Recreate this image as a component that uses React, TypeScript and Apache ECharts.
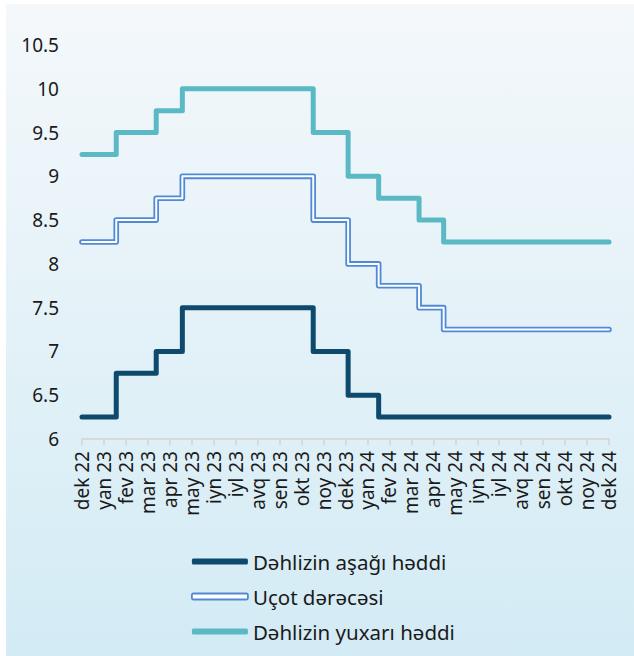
import React, { useEffect, useRef } from "react";
import * as echarts from "echarts";

const monthLabels = [
  "dek 22", "yan 23", "fev 23", "mar 23", "apr 23", "may 23", "iyn 23", "iyl 23",
  "avq 23", "sen 23", "okt 23", "noy 23", "dek 23", "yan 24", "fev 24", "mar 24",
  "apr 24", "may 24", "iyn 24", "iyl 24", "avq 24", "sen 24", "okt 24", "noy 24", "dek 24",
];

// decision dates expressed in months since dek 22
const changeDates = [0, 1.56, 3.38, 4.57, 10.53, 12.12, 13.51, 15.35, 16.47, 24];
const corridorLow = [6.25, 6.75, 7, 7.5, 7, 6.5, 6.25, 6.25, 6.25, 6.25];
const policyRate = [8.25, 8.5, 8.75, 9, 8.5, 8, 7.75, 7.5, 7.25, 7.25];
const corridorHigh = [9.25, 9.5, 9.75, 10, 9.5, 9, 8.75, 8.5, 8.25, 8.25];

const seriesNames = ["Dəhlizin aşağı həddi", "Uçot dərəcəsi", "Dəhlizin yuxarı həddi"];

const FONT = "Noto Sans";

function pair(values: number[]) {
  return changeDates.map((d, i) => [d, values[i]]);
}

export default function App() {
  const ref = useRef<HTMLDivElement>(null);
  useEffect(() => {
    document.body.style.margin = "0";
    if (!ref.current) return;
    const chart = echarts.init(ref.current, undefined, { renderer: "svg" });
    const lineBase = { type: "line", step: "end", symbol: "none", silent: true };
    chart.setOption({
      animation: false,
      textStyle: { fontFamily: FONT },
      graphic: [
        {
          type: "rect",
          z: -10,
          silent: true,
          shape: { x: 6, y: 4, width: 628, height: 652 },
          style: {
            fill: {
              type: "linear", x: 0, y: 0, x2: 0, y2: 1,
              colorStops: [
                { offset: 0, color: "#f4f8fb" },
                { offset: 1, color: "#d3ebf5" },
              ],
            },
          },
        },
      ],
      grid: { left: 82, right: 25, top: 45, bottom: 217 },
      xAxis: {
        type: "value",
        min: 0,
        max: 24,
        interval: 1,
        axisLine: { show: true, lineStyle: { color: "#d9d9d9", width: 2 } },
        axisTick: { show: true, length: 6, lineStyle: { color: "#d9d9d9", width: 2 } },
        splitLine: { show: false },
        axisLabel: {
          rotate: 90,
          margin: 12,
          fontSize: 19,
          color: "#1a1a1a",
          fontFamily: FONT,
          formatter: (v: number) => monthLabels[Math.round(v)] ?? "",
        },
      },
      yAxis: {
        type: "value",
        min: 6,
        max: 10.5,
        interval: 0.5,
        axisLine: { show: false },
        axisTick: { show: false },
        splitLine: { show: false },
        axisLabel: { fontSize: 19, color: "#1a1a1a", margin: 23, fontFamily: FONT },
      },
      legend: {
        orient: "vertical",
        left: 186,
        top: 546,
        itemWidth: 56,
        itemHeight: 6,
        itemGap: 14,
        textStyle: { fontSize: 20.5, color: "#1a1a1a", fontFamily: FONT },
        data: [
          { name: seriesNames[0], icon: "roundRect", itemStyle: { color: "#0e4a6d", borderWidth: 0 } },
          { name: seriesNames[1], icon: "roundRect", itemStyle: { color: "#ffffff", borderColor: "#5089d6", borderWidth: 1.8 } },
          { name: seriesNames[2], icon: "roundRect", itemStyle: { color: "#5bb9c5", borderWidth: 0 } },
        ],
      },
      series: [
        {
          ...lineBase,
          name: seriesNames[2],
          data: pair(corridorHigh),
          itemStyle: { color: "#5bb9c5" },
          lineStyle: { color: "#5bb9c5", width: 5, cap: "round", join: "round" },
        },
        {
          ...lineBase,
          name: seriesNames[1],
          data: pair(policyRate),
          itemStyle: { color: "#5089d6" },
          lineStyle: { color: "#5089d6", width: 5.6, cap: "round", join: "round" },
        },
        {
          ...lineBase,
          name: "uçot-inner",
          data: pair(policyRate),
          itemStyle: { color: "#ffffff" },
          lineStyle: { color: "#ffffff", width: 2, cap: "round", join: "round" },
        },
        {
          ...lineBase,
          name: seriesNames[0],
          data: pair(corridorLow),
          itemStyle: { color: "#0e4a6d" },
          lineStyle: { color: "#0e4a6d", width: 5, cap: "round", join: "round" },
        },
      ],
    });
    return () => chart.dispose();
  }, []);
  return (
    <div
      ref={ref}
      style={{ position: "absolute", left: 0, top: 0, width: 634, height: 656, background: "#ffffff" }}
    />
  );
}
